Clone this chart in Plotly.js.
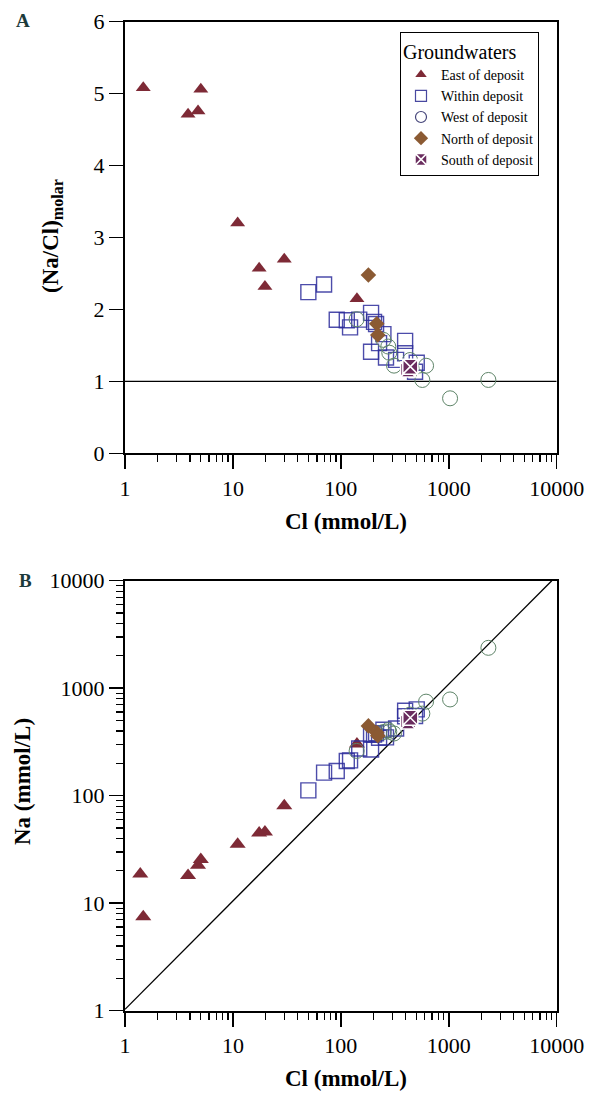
<!DOCTYPE html>
<html>
<head>
<meta charset="utf-8">
<script src="https://cdn.plot.ly/plotly-3.0.1.min.js"></script>
<style>html,body{margin:0;padding:0;background:#fff;}#chart{width:592px;height:1093px;}</style>
</head>
<body>
<div id="chart"></div>
<script>
// ---- Data (Cl and Na in mmol/L) ----
const eastCl   = [1.385, 1.476, 3.84, 4.75, 5.04, 11.06, 17.5, 19.8, 29.9, 141];
const eastNa   = [18.7, 7.5, 18.1, 22.6, 25.5, 35.4, 45.0, 45.9, 80.7, 303];
const withinCl = [50.0, 69.9, 91.6, 113.5, 121.7, 148, 190.5, 203, 212, 248, 226, 190.5, 262, 325, 394, 394, 505, 487];
const withinNa = [112, 164, 170, 210, 213, 275, 372, 371, 381, 411, 346, 269, 349, 422, 616, 548, 636, 552];
const westCl   = [140, 248, 275, 281, 311, 438, 616, 569, 2328, 1028];
const westNa   = [261, 391, 408, 393, 379, 568, 750, 580, 2374, 786];
const northCl  = [180, 215, 220];
const northNa  = [446, 387, 362];
const southCl  = [420, 440];
const southNa  = [490, 530];
// reference lines
const unitLineCl = [1, 10000];
const unitLineRatio = [1, 1];
const oneToOneCl = [1, 9000];
const oneToOneNa = [1.03, 10000];
const legendNames = ["East of deposit", "Within deposit", "West of deposit", "North of deposit", "South of deposit"];

const ratio = (na, cl) => na.map((v, i) => v / cl[i]);

const serif = "'Liberation Serif', 'Times New Roman', serif";
const styles = [
  {symbol: "triangle-up", size: 13, color: "#7e2a36", line: {width: 0}},
  {symbol: "square-open", size: 15, color: "rgba(45,45,155,0.85)", line: {width: 1.4}},
  {symbol: "circle-open", size: 15, color: "#5e8468", line: {width: 1}},
  {symbol: "diamond", size: 12, color: "#8b5a33", line: {width: 0}},
  {symbol: "square-x", size: 15, color: "#6a2c5e", line: {width: 1.5, color: "#ffffff"}}
];
const legendStyles = [
  {symbol: "triangle-up", size: 10, color: "#7e2a36", line: {width: 0}},
  {symbol: "square-open", size: 11, color: "#4848a0", line: {width: 1.2}},
  {symbol: "circle-open", size: 11, color: "#45457a", line: {width: 1.2}},
  {symbol: "diamond", size: 11, color: "#8b5a33", line: {width: 0}},
  {symbol: "square-x", size: 12, color: "#6a2c5e", line: {width: 1.5, color: "#ffffff"}}
];
const groups = [
  [eastCl, eastNa], [withinCl, withinNa], [westCl, westNa], [northCl, northNa], [southCl, southNa]
];

const traces = [];
traces.push({x: unitLineCl, y: unitLineRatio, xaxis: "x", yaxis: "y", mode: "lines",
  line: {color: "#000", width: 1.3}, showlegend: false, hoverinfo: "skip"});
traces.push({x: oneToOneCl, y: oneToOneNa, xaxis: "x2", yaxis: "y2", mode: "lines",
  line: {color: "#000", width: 1.3}, showlegend: false, hoverinfo: "skip"});

groups.forEach((g, i) => {
  traces.push({x: g[0], y: ratio(g[1], g[0]), xaxis: "x", yaxis: "y", mode: "markers",
    marker: styles[i], name: legendNames[i], showlegend: false});
  traces.push({x: g[0], y: g[1], xaxis: "x2", yaxis: "y2", mode: "markers",
    marker: Object.assign({}, styles[i], {size: styles[i].size + (i === 0 ? 1 : 0)}), name: legendNames[i], showlegend: false});
});
// legend entries
legendNames.forEach((n, i) => {
  traces.push({x: [null], y: [null], xaxis: "x", yaxis: "y", mode: "markers",
    marker: legendStyles[i], name: n, showlegend: true});
});

const W = 592, H = 1093;
const xDom = [125 / W, 556.7 / W];
const yDomA = [1 - 453.3 / H, 1 - 21.7 / H];
const yDomB = [1 - 1010.7 / H, 1 - 580.7 / H];

const tickFont = {family: serif, size: 22, color: "#000"};
const logX = (dom, anchor) => ({
  type: "log", range: [0, 4], domain: dom, anchor: anchor,
  dtick: 1, tickformat: "d", ticks: "outside", ticklen: 14, tickwidth: 1.5, tickcolor: "#000",
  minor: {ticks: "outside", ticklen: 7, tickwidth: 1.2, tickcolor: "#000", dtick: "D1", showgrid: false},
  showline: true, linecolor: "#000", linewidth: 2, mirror: true,
  showgrid: false, zeroline: false, tickfont: tickFont
});

const ann = (text, px, py, size, extra) => Object.assign({
  text: text, x: px / W, y: 1 - py / H, xref: "paper", yref: "paper", showarrow: false,
  xanchor: "center", yanchor: "middle", font: {family: serif, size: size, color: "#000"}
}, extra || {});

const layout = {
  width: W, height: H,
  margin: {l: 0, r: 0, t: 0, b: 0},
  paper_bgcolor: "#fff", plot_bgcolor: "#fff",
  showlegend: true,
  legend: {
    x: 400 / W, y: 1 - 32 / H, xanchor: "left", yanchor: "top",
    bordercolor: "#000", borderwidth: 1, bgcolor: "#fff",
    font: {family: serif, size: 14, color: "#000"},
    title: {text: "Groundwaters", font: {family: serif, size: 20, color: "#000"}},
    tracegroupgap: 0, itemwidth: 30
  },
  xaxis: logX(xDom, "y"),
  yaxis: {
    range: [0, 6], domain: yDomA, anchor: "x", dtick: 1,
    ticks: "outside", ticklen: 14, tickwidth: 1.5, tickcolor: "#000",
    showline: true, linecolor: "#000", linewidth: 2, mirror: true,
    showgrid: false, zeroline: false, tickfont: tickFont
  },
  xaxis2: logX(xDom, "y2"),
  yaxis2: {
    type: "log", range: [0, 4], domain: yDomB, anchor: "x2",
    dtick: 1, tickformat: "d", ticks: "outside", ticklen: 14, tickwidth: 1.5, tickcolor: "#000",
    minor: {ticks: "outside", ticklen: 7, tickwidth: 1.2, tickcolor: "#000", dtick: "D1", showgrid: false},
    showline: true, linecolor: "#000", linewidth: 2, mirror: true,
    showgrid: false, zeroline: false, tickfont: tickFont
  },
  annotations: [
    ann("<b>A</b>", 23, 21, 19, {font: {family: serif, size: 19, color: "#1c3b3b"}}),
    ann("<b>B</b>", 25, 580, 19, {font: {family: serif, size: 19, color: "#1c3b3b"}}),
    ann("<b>Cl (mmol/L)</b>", 346, 521, 23),
    ann("<b>Cl (mmol/L)</b>", 346, 1078, 23),
    ann("<b>(Na/Cl)<sub>molar</sub></b>", 52, 236, 23, {textangle: -90}),
    ann("<b>Na (mmol/L)</b>", 22, 782, 23, {textangle: -90})
  ]
};

Plotly.newPlot("chart", traces, layout, {staticPlot: true, displayModeBar: false});
</script>
</body>
</html>
